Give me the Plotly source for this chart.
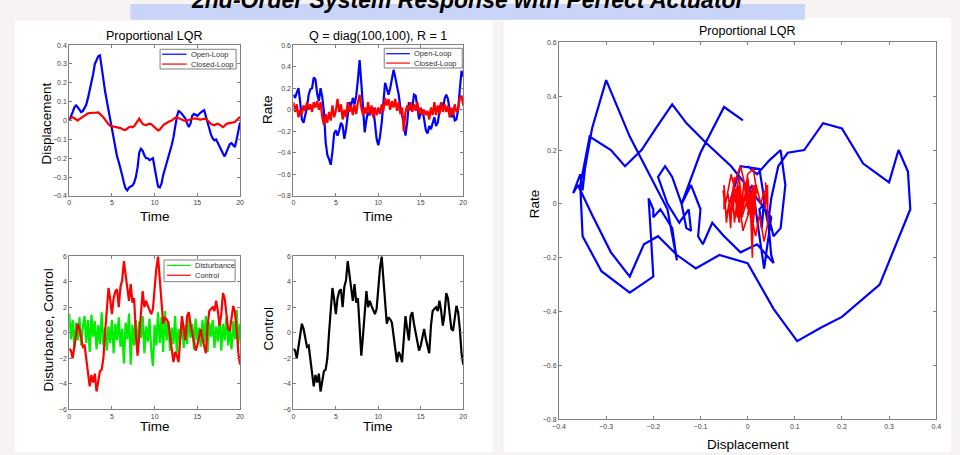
import numpy as np
import plotly.graph_objects as go

# ---------------- data ----------------
time = np.round(np.arange(101) * 0.2, 1)  # 0 .. 20 s

disp_open = [0.0, 0.02, 0.045, 0.07, 0.08, 0.07, 0.055, 0.045, 0.05, 0.065,
             0.085, 0.12, 0.16, 0.2, 0.245, 0.3, 0.32, 0.34, 0.345, 0.28,
             0.2, 0.155, 0.105, 0.055, 0.0, -0.06, -0.11, -0.15, -0.19, -0.22,
             -0.25, -0.29, -0.33, -0.36, -0.37, -0.355, -0.35, -0.345, -0.33, -0.3,
             -0.25, -0.17, -0.15, -0.16, -0.185, -0.2, -0.2, -0.21, -0.205, -0.2,
             -0.25, -0.31, -0.35, -0.355, -0.335, -0.29, -0.26, -0.225, -0.195, -0.16,
             -0.13, -0.09, -0.035, 0.02, 0.05, 0.045, 0.035, 0.025, 0.01, -0.015,
             -0.035, -0.015, 0.025, 0.035, 0.03, 0.025, 0.035, 0.045, 0.05, 0.055,
             0.02, -0.015, -0.05, -0.075, -0.095, -0.105, -0.1, -0.12, -0.14, -0.16,
             -0.175, -0.19, -0.17, -0.145, -0.125, -0.12, -0.13, -0.14, -0.1, -0.05,
             -0.01]

disp_closed = [0.01, 0.015, 0.018, 0.012, 0.005, 0.0, 0.008, 0.015, 0.018, 0.028,
               0.035, 0.038, 0.04, 0.04, 0.038, 0.04, 0.042, 0.043, 0.035, 0.025,
               0.017, 0.005, -0.01, -0.02, -0.028, -0.03, -0.028, -0.03, -0.032, -0.036,
               -0.04, -0.045, -0.05, -0.05, -0.042, -0.035, -0.032, -0.036, -0.03, -0.015,
               0.0, 0.01, -0.005, -0.018, -0.022, -0.025, -0.02, -0.017, -0.02, -0.028,
               -0.035, -0.045, -0.052, -0.048, -0.035, -0.025, -0.018, -0.012, -0.008, -0.003,
               0.0, 0.008, 0.015, 0.017, 0.012, 0.01, 0.006, 0.0, -0.002, 0.0,
               0.0, 0.005, 0.01, 0.01, 0.01, 0.01, 0.006, 0.005, 0.008, 0.01,
               0.01, 0.0, -0.012, -0.018, -0.022, -0.025, -0.02, -0.017, -0.022, -0.03,
               -0.035, -0.028, -0.018, -0.015, -0.012, -0.01, -0.01, -0.008, 0.0, 0.012,
               0.02]

rate_open = [0.14, 0.11, 0.16, 0.2, 0.07, -0.09, -0.12, -0.05, 0.02, 0.14,
             0.19, 0.2, 0.3, 0.28, 0.15, 0.08, 0.2, 0.12, -0.02, -0.3,
             -0.42, -0.46, -0.51, -0.39, -0.22, -0.19, -0.24, -0.19, -0.12, -0.15,
             -0.27, -0.18, -0.04, 0.07, 0.04, 0.11, 0.05, 0.13, 0.28, 0.46,
             0.25, -0.02, -0.21, -0.09, -0.02, -0.05, -0.02, 0.02, -0.12, -0.27,
             -0.33, -0.25, -0.12, 0.07, 0.25, 0.2, 0.14, 0.2, 0.28, 0.37,
             0.3, 0.23, 0.14, 0.02, -0.05, -0.12, -0.24, -0.12, 0.07, 0.0,
             0.02, 0.14, 0.13, 0.02, -0.09, -0.02, 0.0, -0.09, -0.19, -0.22,
             -0.15, -0.18, -0.12, -0.07, -0.15, -0.12, -0.02, 0.07, 0.0, 0.1,
             0.14, 0.1, 0.0, -0.07, -0.02, -0.1, -0.09, 0.0, 0.19, 0.36,
             0.31]

rate_closed = [0.07, -0.02, 0.05, -0.07, 0.0, -0.04, 0.04, -0.01, 0.07, 0.0,
               0.05, -0.02, 0.07, 0.02, 0.08, 0.0, 0.07, -0.07, -0.14, -0.04,
               -0.12, -0.02, -0.1, 0.04, -0.07, -0.01, 0.1, -0.02, 0.05, -0.09,
               0.0, -0.07, 0.07, -0.02, 0.04, -0.05, 0.05, -0.04, 0.07, 0.14,
               0.02, -0.05, 0.02, -0.04, 0.07, -0.04, 0.04, -0.07, 0.02, -0.05,
               0.02, -0.04, 0.05, -0.01, 0.11, 0.04, 0.1, 0.0, 0.08, 0.02,
               0.1, -0.01, 0.07, -0.04, 0.02, -0.2, -0.02, 0.04, -0.01, 0.07,
               -0.02, 0.05, -0.01, 0.07, -0.04, 0.02, -0.05, 0.0, -0.05, -0.01,
               -0.09, 0.02, -0.05, 0.07, -0.05, 0.04, -0.04, 0.07, -0.02, 0.05,
               -0.02, 0.04, -0.07, 0.02, -0.05, 0.05, -0.02, 0.0, 0.11, 0.13,
               0.04]

disturbance = [1.5, -0.5, 1.0, -1.2, 0.8, -0.6, 1.2, -1.0, 0.5, 1.3,
               -0.8, 1.0, -1.5, 1.4, -0.3, 0.9, -1.3, 0.6, -0.9, 1.6,
               -1.0, 0.4, -1.4, 0.5, -0.8, 1.0, -1.6, 0.7, -0.6, 1.2,
               -1.1, 0.3, -2.4, 0.8, -0.5, 1.5, -2.5, 0.6, -1.0, 1.0,
               -1.2, 0.9, -0.4, 1.3, -1.6, 0.5, -0.7, 1.1, -1.3, -2.6,
               0.6, -1.0, 1.6, -0.8, 1.2, -1.5, 1.7, -0.6, 0.9, -1.4,
               0.4, -0.9, 1.3, -1.6, 0.3, -0.5, 1.0, -1.2, 0.6, -0.9,
               1.2, -0.4, 0.7, -1.3, 1.1, -0.6, 0.4, -1.1, 1.0, -0.8,
               1.3, -1.5, 0.8, -0.3, 1.0, -1.2, 0.5, -0.7, 1.1, -1.4,
               0.7, -0.6, 1.2, -1.0, 0.3, -1.3, 0.9, -0.5, 1.8, -0.9,
               0.7]

control = [-1.25, -1.4, -2.0, -1.0, -0.1, 0.7, 0.3, -0.5, -1.1, -1.0,
           -2.0, -3.3, -4.2, -3.3, -3.9, -3.2, -4.6, -3.8, -3.0, -2.9,
           -2.0, 0.0, 2.1, 3.5, 2.6, 1.45, 2.7, 3.25, 3.4, 2.0,
           3.6, 4.1, 5.6, 4.7, 3.5, 2.5, 3.8, 2.35, 2.7, -0.1,
           -1.8, -0.2, 1.6, 3.25, 2.0, 2.5, 2.1, 1.7, 1.45, 1.85,
           3.9, 5.05, 5.95, 4.3, 2.2, 0.7, 1.2, 1.05, 0.8, -0.1,
           -1.1, -2.3, -1.5, -1.8, -2.3, -0.75, 1.3, 0.3, -0.6, 1.3,
           1.6, 0.7, 0.0, -0.9, -1.4, -1.0, -0.2, 0.3, -0.5, -1.0,
           -1.6, 0.55, 1.7, 1.85, 2.0, 1.7, 2.5, 1.7, 0.55, 1.45,
           3.1, 2.7, 1.6, 0.3, 0.15, 1.05, 2.1, 1.6, 0.3, -1.6,
           -2.5]

main_title = "2nd-Order System Response with Perfect Actuator"
titles = ["Proportional LQR", "Q = diag(100,100), R = 1", "Proportional LQR"]

# ---------------- layout helpers ----------------
W, H = 960, 455
FONT = "Liberation Sans, Arial, sans-serif"
BLUE, RED, GREEN, BLACK = "#0000ff", "#ff0000", "#00ee00", "#000000"
AX = "#808080"


def px(x):
    return x / W


def py(y):
    return 1 - y / H


fig = go.Figure()
LW = 2.2

# subplot 1: displacement
fig.add_trace(go.Scatter(x=time, y=disp_open, mode="lines", name="Open-Loop",
                         line=dict(color=BLUE, width=LW), xaxis="x", yaxis="y"))
fig.add_trace(go.Scatter(x=time, y=disp_closed, mode="lines", name="Closed-Loop",
                         line=dict(color=RED, width=LW), xaxis="x", yaxis="y"))
# subplot 2: rate
fig.add_trace(go.Scatter(x=time, y=rate_open, mode="lines", name="Open-Loop",
                         line=dict(color=BLUE, width=LW), xaxis="x2", yaxis="y2"))
fig.add_trace(go.Scatter(x=time, y=rate_closed, mode="lines", name="Closed-Loop",
                         line=dict(color=RED, width=LW), xaxis="x2", yaxis="y2"))
# subplot 3: disturbance & control
fig.add_trace(go.Scatter(x=time, y=disturbance, mode="lines", name="Disturbance",
                         line=dict(color=GREEN, width=LW), xaxis="x3", yaxis="y3"))
fig.add_trace(go.Scatter(x=time, y=control, mode="lines", name="Control",
                         line=dict(color=RED, width=LW), xaxis="x3", yaxis="y3"))
# subplot 4: control
fig.add_trace(go.Scatter(x=time, y=control, mode="lines", name="Control",
                         line=dict(color=BLACK, width=LW), xaxis="x4", yaxis="y4"))
# subplot 5: phase plane
fig.add_trace(go.Scatter(x=disp_open, y=rate_open, mode="lines", name="Open-Loop",
                         line=dict(color=BLUE, width=LW), xaxis="x5", yaxis="y5"))
fig.add_trace(go.Scatter(x=disp_closed, y=rate_closed, mode="lines", name="Closed-Loop",
                         line=dict(color=RED, width=1.6), xaxis="x5", yaxis="y5"))


def axis(domain, rng, dtick, anchor):
    return dict(domain=domain, range=rng, dtick=dtick, anchor=anchor,
                showline=True, mirror="ticks", linecolor=AX, linewidth=1,
                ticks="inside", ticklen=3, tickcolor=AX, showgrid=False,
                zeroline=False, tickfont=dict(size=7, color="#444444", family=FONT))


xd_l, xd_r, xd_big = [px(63), px(236)], [px(290), px(462)], [px(559), px(941)]
yd_t, yd_b, yd_big = [py(195), py(41.7)], [py(411.7), py(256)], [py(421.7), py(39)]

layout = dict(
    width=W, height=H, margin=dict(l=0, r=0, t=0, b=0),
    paper_bgcolor="#f8f3f3", plot_bgcolor="#ffffff", showlegend=False,
    font=dict(family=FONT, color="#000000"),
    xaxis=axis(xd_l, [0, 20], 5, "y"), yaxis=axis(yd_t, [-0.4, 0.4], 0.1, "x"),
    xaxis2=axis(xd_r, [0, 20], 5, "y2"), yaxis2=axis(yd_t, [-0.8, 0.6], 0.2, "x2"),
    xaxis3=axis(xd_l, [0, 20], 5, "y3"), yaxis3=axis(yd_b, [-6, 6], 2, "x3"),
    xaxis4=axis(xd_r, [0, 20], 5, "y4"), yaxis4=axis(yd_b, [-6, 6], 2, "x4"),
    xaxis5=axis(xd_big, [-0.4, 0.4], 0.1, "y5"), yaxis5=axis(yd_big, [-0.8, 0.6], 0.2, "x5"),
)
fig.update_layout(**layout)

shapes = []
ann = []


def rect(x0, y0, x1, y1, fill, line=None, lw=0):
    shapes.append(dict(type="rect", xref="paper", yref="paper", x0=px(x0), x1=px(x1),
                       y0=py(y1), y1=py(y0), fillcolor=fill, layer="below",
                       line=dict(color=line or fill, width=lw)))


def text(x, y, s, size, angle=0, xanchor="center", color="#000000"):
    ann.append(dict(x=px(x), y=py(y), xref="paper", yref="paper", text=s, showarrow=False,
                    xanchor=xanchor, yanchor="middle", textangle=angle,
                    font=dict(size=size, family=FONT, color=color)))


# background panels and title band (title is cropped at the top edge as in the slide)
rect(8, 17, 492, 455, "#ffffff")
rect(503, 14, 956, 455, "#ffffff")
rect(125, 0, 808, 16, "#c8d4f8")
ann.append(dict(x=px(467), y=py(11), xref="paper", yref="paper",
                text="<b><i>" + main_title + "</i></b>", showarrow=False,
                xanchor="center", yanchor="bottom",
                font=dict(size=23, family=FONT, color="#000000")))

# subplot titles and axis labels
text(149.5, 32, titles[0], 12.5)
text(376, 32, titles[1], 12.5)
text(750, 27, titles[2], 12.5)
text(149.5, 216, "Time", 13.5)
text(376, 216, "Time", 13.5)
text(149.5, 429, "Time", 13.5)
text(376, 429, "Time", 13.5)
text(750, 447, "Displacement", 13.5)
text(40, 122, "Displacement", 13.5, angle=-90)
text(264, 107, "Rate", 13.5, angle=-90)
text(42, 331, "Disturbance, Control", 13.5, angle=-90)
text(265, 330, "Control", 13.5, angle=-90)
text(535, 203, "Rate", 13.5, angle=-90)


# compact legends drawn as boxes with line samples
def legend(box, items):
    x0, y0, x1, y1 = box
    shapes.append(dict(type="rect", xref="paper", yref="paper", x0=px(x0), x1=px(x1),
                       y0=py(y1), y1=py(y0), fillcolor="#ffffff",
                       line=dict(color=AX, width=1), layer="above"))
    for (lx0, lx1, ly, color, label) in items:
        shapes.append(dict(type="line", xref="paper", yref="paper", x0=px(lx0), x1=px(lx1),
                           y0=py(ly), y1=py(ly), line=dict(color=color, width=1.2),
                           layer="above"))
        text(lx1 + 2, ly, label, 7.5, xanchor="left", color="#333333")


legend((155, 46, 232, 66), [(157, 182, 51, BLUE, "Open-Loop"),
                            (157, 182, 61, RED, "Closed-Loop")])
legend((382, 45, 461, 65), [(384, 408, 50.5, BLUE, "Open-Loop"),
                            (384, 408, 60, RED, "Closed-Loop")])
legend((159, 260, 231, 282), [(162, 186, 265.5, GREEN, "Disturbance"),
                              (162, 186, 275.5, RED, "Control")])

fig.update_layout(shapes=shapes, annotations=ann)
fig.write_html("out.html")
